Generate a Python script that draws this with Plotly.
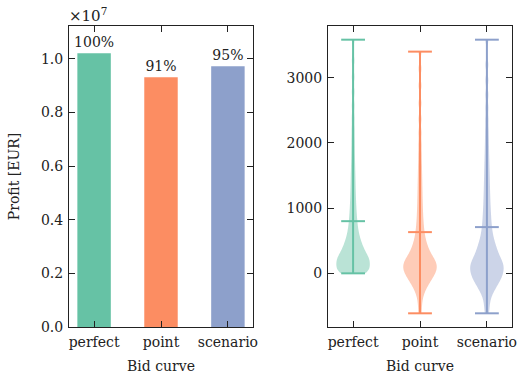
import plotly.graph_objects as go

# ---------------- data ----------------
categories = ["perfect", "point", "scenario"]
profit_eur = [1.02e7, 9.31e6, 9.72e6]
bar_colors = ["#66c2a5", "#fc8d62", "#8da0cb"]
left_ticks = [0.0, 0.2, 0.4, 0.6, 0.8, 1.0]  # in units of 1e7

# hourly profit samples (estimated from the violin shapes)
perfect_samples = [0, 0, 5, 0, 15, 30, 45, 60, 75, 90, 105, 120, 134, 147, 160, 173, 186,
                   199, 212, 225, 238, 252, 267, 283, 300, 318, 337, 357, 378, 400, 423,
                   447, 473, 501, 532, 566, 603, 643, 687, 735, 787, 843, 903, 968, 1038,
                   1113, 1193, 1278, 1368, 1463, 1563, 1673, 1793, 1923, 2063, 2213, 2383,
                   2573, 2783, 3013, 3263, 3583]
point_samples = [-613, -470, -360, -290, -240, -200, -168, -140, -115, -92, -71, -51, -32,
                 -14, 3, 19, 34, 49, 64, 79, 94, 109, 124, 139, 154, 169, 184, 200, 217,
                 235, 255, 276, 299, 324, 351, 380, 412, 447, 486, 530, 580, 636, 698, 766,
                 842, 924, 1012, 1106, 1206, 1312, 1425, 1545, 1675, 1820, 1980, 2160,
                 2370, 2610, 2880, 3140, 3400]
scenario_samples = [-613, -510, -420, -350, -300, -262, -230, -202, -177, -154, -133, -113,
                    -94, -76, -59, -42, -26, -10, 6, 22, 37, 52, 67, 82, 97, 112, 127, 142,
                    157, 173, 189, 206, 224, 243, 263, 284, 306, 329, 353, 378, 405, 433,
                    463, 496, 532, 571, 614, 661, 712, 766, 823, 884, 948, 1016, 1088, 1164,
                    1243, 1326, 1413, 1503, 1598, 1700, 1810, 1930, 2060, 2200, 2360, 2540,
                    2740, 2960, 3200, 3583]
upper_marks = [800, 632, 709]
right_ticks = [0, 1000, 2000, 3000]

samples = [perfect_samples, point_samples, scenario_samples]

FONT = "DejaVu Serif"
AX = "#222222"
TXT = "#222222"

fig = go.Figure()

# ---------------- left: bars ----------------
pct = [f"{round(v / profit_eur[0] * 100):d}%" for v in profit_eur]
fig.add_trace(go.Bar(
    x=list(range(len(categories))), y=profit_eur, width=0.5,
    marker=dict(color=bar_colors, line=dict(width=0)),
    text=pct, textposition="outside", cliponaxis=False, constraintext="none",
    textfont=dict(family=FONT, size=14, color=TXT),
    xaxis="x", yaxis="y", showlegend=False, hoverinfo="skip"))

# ---------------- right: violins ----------------
def rgba(h, a):
    h = h.lstrip("#")
    return f"rgba({int(h[0:2],16)},{int(h[2:4],16)},{int(h[4:6],16)},{a})"

for i, (s, c) in enumerate(zip(samples, bar_colors)):
    fig.add_trace(go.Violin(
        x=[i] * len(s), y=s, width=0.5, spanmode="hard", bandwidth=75,
        points=False, box_visible=False, meanline_visible=False,
        fillcolor=rgba(c, 0.45), line=dict(width=0, color=rgba(c, 0.0)),
        xaxis="x2", yaxis="y2", showlegend=False, hoverinfo="skip", side="both"))
    smin, smax = min(s), max(s)
    fig.add_trace(go.Scatter(
        x=[i, i], y=[smin, smax], mode="lines", line=dict(color=c, width=2),
        xaxis="x2", yaxis="y2", showlegend=False, hoverinfo="skip"))
    fig.add_trace(go.Scatter(
        x=[i, i, i], y=[smin, upper_marks[i], smax], mode="markers",
        marker=dict(symbol="line-ew", size=17, line=dict(color=c, width=2)),
        xaxis="x2", yaxis="y2", showlegend=False, hoverinfo="skip"))

W, H = 521, 379
dom_y = [1 - 327 / H, 1 - 26 / H]

common_axis = dict(showline=True, linecolor=AX, linewidth=1, mirror="ticks",
                   ticks="inside", ticklen=6, tickwidth=1, tickcolor=AX,
                   showgrid=False, zeroline=False, automargin=False,
                   tickfont=dict(family=FONT, size=14, color=TXT))

fig.update_layout(
    width=W, height=H, margin=dict(l=0, r=0, t=0, b=0),
    paper_bgcolor="white", plot_bgcolor="white",
    font=dict(family=FONT, size=14, color=TXT),
    xaxis=dict(domain=[69 / W, 253 / W], range=[-0.375, 2.375],
               tickvals=list(range(len(categories))), ticktext=categories,
               ticklabelstandoff=2,
               title=dict(text="Bid curve", standoff=12, font=dict(family=FONT, size=14, color=TXT)),
               anchor="y", **common_axis),
    yaxis=dict(domain=dom_y, range=[0, max(profit_eur) * 1.1],
               tickvals=[t * 1e7 for t in left_ticks],
               ticktext=[f"{t:.1f}" for t in left_ticks],
               ticklabelstandoff=2,
               title=dict(text="Profit [EUR]", standoff=18, font=dict(family=FONT, size=14, color=TXT)),
               anchor="x", **common_axis),
    xaxis2=dict(domain=[328 / W, 512 / W], range=[-0.375, 2.375],
                tickvals=list(range(len(categories))), ticktext=categories,
                ticklabelstandoff=2,
                title=dict(text="Bid curve", standoff=12, font=dict(family=FONT, size=14, color=TXT)),
                anchor="y2", **common_axis),
    yaxis2=dict(domain=dom_y, range=[-823, 3793], tickvals=right_ticks,
                ticklabelstandoff=2,
                anchor="x2", **common_axis),
    violinmode="overlay",
)

fig.add_annotation(text="×10<sup>7</sup>", xref="paper", yref="paper",
                   x=67 / W, y=1 - 26 / H, xanchor="left", yanchor="bottom",
                   yshift=-1, showarrow=False, font=dict(family=FONT, size=15, color=TXT))

# remove the default page margin so the 521x379 figure fills the window exactly
fig.write_html("out.html", config={"displayModeBar": False},
               post_script="document.body.style.margin='0';")
